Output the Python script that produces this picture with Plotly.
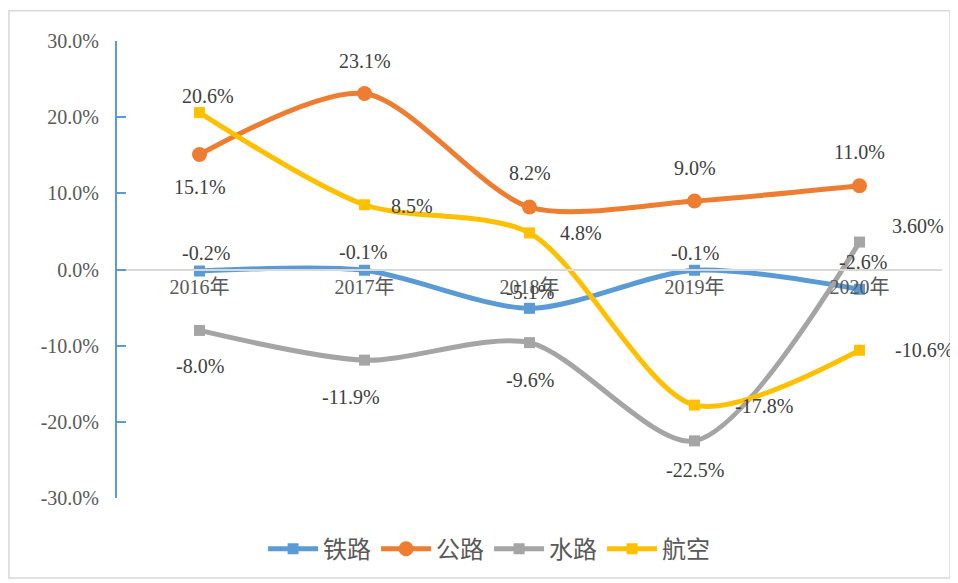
import plotly.graph_objects as go

categories = ["2016年", "2017年", "2018年", "2019年", "2020年"]
rail = [-0.2, -0.1, -5.1, -0.1, -2.6]
road = [15.1, 23.1, 8.2, 9.0, 11.0]
water = [-8.0, -11.9, -9.6, -22.5, 3.6]
air = [20.6, 8.5, 4.8, -17.8, -10.6]

rail_text = ["-0.2%", "-0.1%", "-5.1%", "-0.1%", "-2.6%"]
road_text = ["15.1%", "23.1%", "8.2%", "9.0%", "11.0%"]
water_text = ["-8.0%", "-11.9%", "-9.6%", "-22.5%", "3.60%"]
air_text = ["20.6%", "8.5%", "4.8%", "-17.8%", "-10.6%"]

yticks = [-30, -20, -10, 0, 10, 20, 30]
ytick_text = ["-30.0%", "-20.0%", "-10.0%", "0.0%", "10.0%", "20.0%", "30.0%"]

FONT = "Liberation Serif, Noto Sans CJK SC, serif"
LABEL = dict(family=FONT, size=20, color="#404040")

# (name, values, labels, colour, symbol, size, label shifts (dx, dy) in px)
series = [
    ("铁路", rail, rail_text, "#5b9bd5", "square", 11,
     [(6, 18), (-2, 18), (0, 16), (0, 17), (3, 27)]),
    ("公路", road, road_text, "#ed7d31", "circle", 15,
     [(0, -33), (0, 33), (0, 34), (0, 33), (0, 34)]),
    ("水路", water, water_text, "#a5a5a5", "square", 11,
     [(0, -36), (-14, -37), (0, -37), (0, -29), (58, 16)]),
    ("航空", air, air_text, "#ffc000", "square", 11,
     [(8, 17), (47, -1), (51, 0), (69, -1), (64, 0)]),
]

fig = go.Figure()
annotations = []
for name, vals, txt, col, sym, sz, shifts in series:
    fig.add_trace(go.Scatter(
        x=categories, y=vals, name=name, mode="lines+markers",
        line=dict(color=col, width=5, shape="spline", smoothing=0.8),
        marker=dict(color=col, symbol=sym, size=sz),
        cliponaxis=False,
    ))
    for c, v, t, (dx, dy) in zip(categories, vals, txt, shifts):
        annotations.append(dict(
            x=c, y=v, text=t, showarrow=False, xshift=dx, yshift=dy,
            font=LABEL, xanchor="center", yanchor="middle",
        ))

fig.update_layout(
    width=958, height=583,
    margin=dict(l=109, r=24, t=33, b=93),
    paper_bgcolor="white", plot_bgcolor="white",
    showlegend=True,
    legend=dict(orientation="h", x=0.451, xanchor="center", y=-0.112, yanchor="middle",
                font=dict(family=FONT, size=24, color="#595959"),
                itemwidth=50),
    xaxis=dict(
        type="category", range=[-0.5, 4.5], anchor="free", position=0.5,
        showline=True, linecolor="#d9d9d9", linewidth=1.5,
        showgrid=False, zeroline=False, ticks="",
        tickfont=dict(family=FONT, size=20, color="#595959"),
    ),
    yaxis=dict(
        range=[-30, 30], tickvals=yticks, ticktext=ytick_text,
        showline=True, linecolor="#5b9bd5", linewidth=2,
        ticks="inside", ticklen=9, tickcolor="#5b9bd5", tickwidth=2,
        showgrid=False, zeroline=False, ticklabelstandoff=12,
        tickfont=dict(family=FONT, size=20, color="#595959"),
    ),
    annotations=annotations,
    shapes=[dict(type="rect", xref="paper", yref="paper",
                 x0=-0.131, x1=1.0097, y0=-0.175, y1=1.066,
                 line=dict(color="#d9d9d9", width=1.5), layer="below")],
)

fig.write_html("out.html")
